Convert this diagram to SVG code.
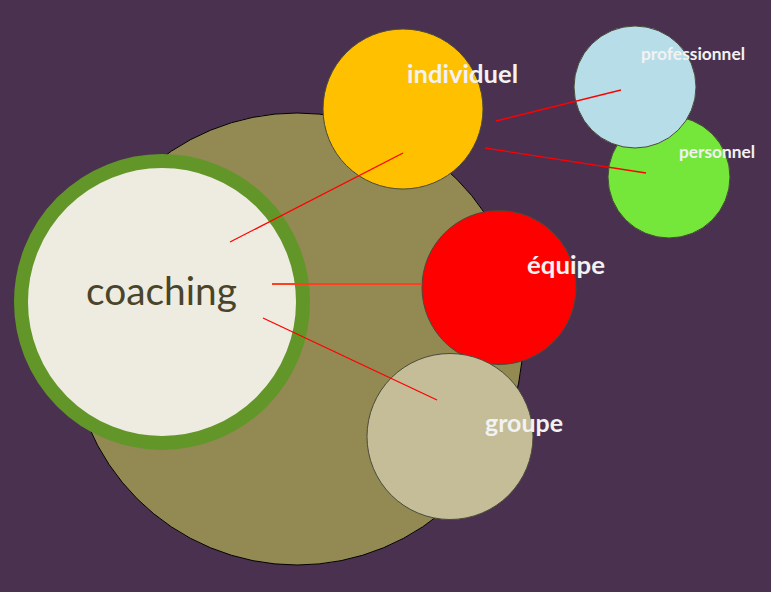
<svg xmlns="http://www.w3.org/2000/svg" width="771" height="592" viewBox="0 0 771 592">
<style>
.node{stroke:#4a4a3a;stroke-width:1}
.lbl{font-family:Lato,"Open Sans","Liberation Sans",sans-serif;font-weight:bold;fill:#F2F2F2}
.conn{stroke:#FF0000;stroke-width:1.3;fill:none}
</style>
<rect width="771" height="592" fill="#4B3150"/>
<g id="fond"><circle cx="297" cy="339" r="226" fill="#938953" stroke="#000" stroke-width="1"/></g>
<g id="coaching">
<circle cx="162" cy="302" r="141" fill="#EEECE1" stroke="#629628" stroke-width="14"/>
</g>
<g id="individuel"><circle class="node" cx="403" cy="109" r="80" fill="#FFC000"/></g>
<g id="personnel"><circle class="node" cx="669" cy="177" r="61" fill="#75E63A"/></g>
<g id="professionnel"><circle class="node" cx="635" cy="87" r="61" fill="#B7DEE8"/></g>
<g id="equipe"><circle class="node" cx="499" cy="287.5" r="77" fill="#FF0000"/></g>
<g id="groupe"><circle class="node" cx="450" cy="436.5" r="83" fill="#C4BD97"/></g>
<g id="connectors">
<line class="conn" x1="230" y1="242" x2="403" y2="153"/>
<line x1="272" y1="284" x2="422" y2="284" stroke="#FF4020" stroke-width="2"/>
<line class="conn" x1="263" y1="318" x2="437" y2="400"/>
<line class="conn" x1="496" y1="121" x2="621" y2="90"/>
<line class="conn" x1="485" y1="148" x2="646" y2="173"/>
</g>
<g id="labels">
<text x="86" y="305" font-family="Lato,'Open Sans','Liberation Sans',sans-serif" font-size="38" fill="#4A452A" textLength="151" lengthAdjust="spacingAndGlyphs">coaching</text>
<text class="lbl" x="407" y="83" font-size="24" textLength="111" lengthAdjust="spacingAndGlyphs">individuel</text>
<text class="lbl" x="641" y="60" font-size="16.5" textLength="104" lengthAdjust="spacingAndGlyphs">professionnel</text>
<text class="lbl" x="679" y="158" font-size="16.5" textLength="76" lengthAdjust="spacingAndGlyphs">personnel</text>
<text class="lbl" x="527" y="274" font-size="24" textLength="78" lengthAdjust="spacingAndGlyphs">équipe</text>
<text class="lbl" x="485" y="432" font-size="24" textLength="78" lengthAdjust="spacingAndGlyphs">groupe</text>
</g>
</svg>
